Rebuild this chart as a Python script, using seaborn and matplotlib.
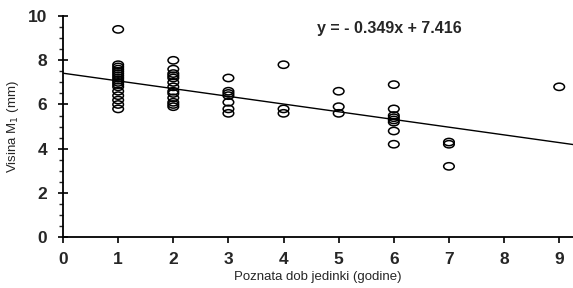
import matplotlib
matplotlib.use("Agg")
import matplotlib.pyplot as plt
import numpy as np
import pandas as pd
import seaborn as sns
from matplotlib.path import Path
from matplotlib.transforms import Affine2D
from matplotlib.ticker import MultipleLocator

# --- data ---
age_1 = [9.4, 7.8, 7.7, 7.6, 7.5, 7.4, 7.3, 7.2, 7.1, 7.0, 6.9, 6.8, 6.6, 6.4, 6.2, 6.0, 5.8]
age_2 = [8.0, 7.6, 7.4, 7.3, 7.2, 7.0, 6.8, 6.6, 6.5, 6.3, 6.1, 6.0, 5.9]
age_3 = [7.2, 6.6, 6.5, 6.4, 6.1, 5.8, 5.6]
age_4 = [7.8, 5.8, 5.6]
age_5 = [6.6, 5.9, 5.6]
age_6 = [6.9, 5.8, 5.5, 5.4, 5.3, 5.2, 4.8, 4.2]
age_7 = [4.3, 4.2, 3.2]
age_9 = [6.8]
ages = [1, 2, 3, 4, 5, 6, 7, 9]
slope = -0.349
intercept = 7.416
x_ticks = list(range(10))
y_ticks = [0, 2, 4, 6, 8, 10]

groups = [age_1, age_2, age_3, age_4, age_5, age_6, age_7, age_9]
df = pd.DataFrame(
    [(a, v) for a, vals in zip(ages, groups) for v in vals], columns=["age", "height"]
)
x_max = 9.25
fit = pd.DataFrame({"age": [0, x_max]})
fit["height"] = slope * fit["age"] + intercept

sns.set_style("ticks")
plt.rcParams["font.family"] = ["Liberation Sans", "DejaVu Sans"]

fig = plt.figure(figsize=(5.73, 2.88), dpi=100)
ax = fig.add_axes([0.11, 0.177, 0.89, 0.767])

ellipse = Path.unit_circle().transformed(Affine2D().scale(1.45, 1.0))
sns.scatterplot(data=df, x="age", y="height", marker=ellipse, s=58,
                facecolor="none", edgecolor="black", linewidth=1.1, ax=ax)
sns.lineplot(data=fit, x="age", y="height", color="black", linewidth=1.0, ax=ax)

ax.set_xlim(0, x_max)
ax.set_ylim(0, 10)
ax.set_xticks(x_ticks)
ax.set_yticks(y_ticks)
ax.yaxis.set_minor_locator(MultipleLocator(0.5))
ax.tick_params(axis="both", which="major", labelsize=12.5, width=1.2, color="black")
ax.tick_params(axis="y", which="major", direction="inout", length=7, pad=8)
ax.tick_params(axis="y", which="minor", direction="out", length=3, width=1)
ax.tick_params(axis="x", which="major", direction="out", length=4, pad=7)
for lbl in ax.get_xticklabels() + ax.get_yticklabels():
    lbl.set_fontweight("bold")

sns.despine(ax=ax)
for side in ["left", "bottom"]:
    ax.spines[side].set_linewidth(1.3)
    ax.spines[side].set_color("black")

ax.set_xlabel("Poznata dob jedinki (godine)", fontsize=9.5, labelpad=3)
ax.set_ylabel("Visina M$_1$ (mm)", fontsize=9.5, labelpad=5)
ax.text(4.6, 9.45, "y = - 0.349x + 7.416", fontsize=11.5, fontweight="bold",
        va="center")

fig.savefig("out.png", dpi=100)
